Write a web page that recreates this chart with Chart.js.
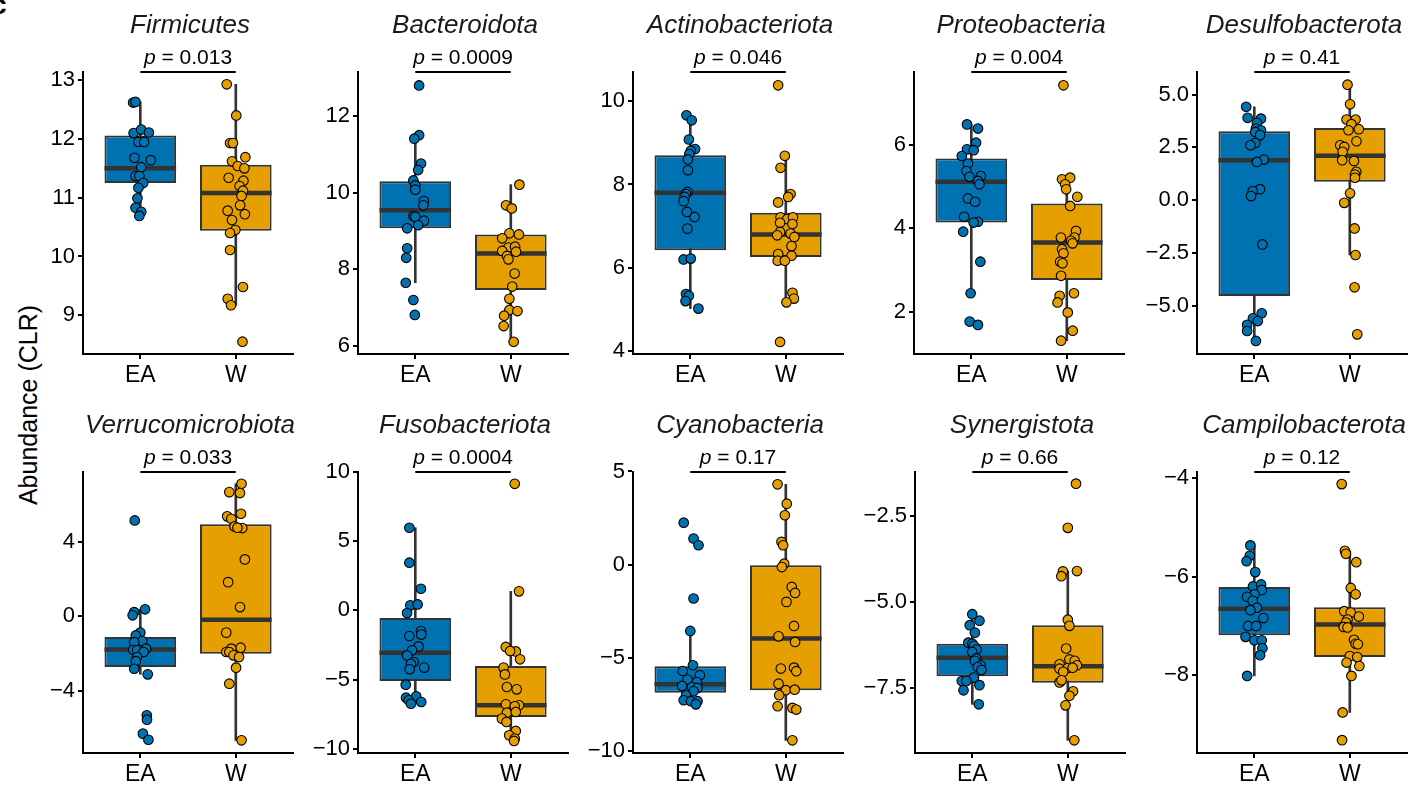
<!DOCTYPE html>
<html>
<head>
<meta charset="utf-8">
<title>Phylum abundance, EA vs W</title>
<script src="https://cdn.jsdelivr.net/npm/chart.js@4.4.1/dist/chart.umd.min.js"></script>
<style>
  html, body { margin: 0; padding: 0; background: #fff; width: 1413px; height: 787px; overflow: hidden; }
  canvas.panel { position: absolute; }
  #ylab {
    position: absolute; left: 28px; top: 405px;
    transform: translate(-50%, -50%) rotate(-90deg);
    font: 25px 'Liberation Sans', Arial, Helvetica, sans-serif;
    color: #000; white-space: nowrap;
  }
  #tag {
    position: absolute; left: -9px; top: -9px;
    font: bold 28px/28px 'Liberation Sans', Arial, Helvetica, sans-serif;
    color: #000;
  }
</style>
</head>
<body>
<div id="tag">c</div>
<div id="ylab">Abundance (CLR)</div>
<script>
// ---- data -------------------------------------------------------------
const phyla = ['Firmicutes', 'Bacteroidota', 'Actinobacteriota', 'Proteobacteria', 'Desulfobacterota',
               'Verrucomicrobiota', 'Fusobacteriota', 'Cyanobacteria', 'Synergistota', 'Campilobacterota'];
const groups = ['EA', 'W'];
const pLabels = ['0.013', '0.0009', '0.046', '0.004', '0.41', '0.033', '0.0004', '0.17', '0.66', '0.12'];

// y-axis limits and tick values for each phylum
const yLimits = [[8.34, 13.14], [5.79, 13.15], [3.93, 10.70], [0.98, 7.76], [-7.29, 6.07],
                 [-7.35, 7.73], [-10.29, 9.98], [-10.11, 4.97], [-9.41, -1.21], [-9.57, -3.885]];
const yTicks = [[9, 10, 11, 12, 13], [6, 8, 10, 12], [4, 6, 8, 10], [2, 4, 6], [-5, -2.5, 0, 2.5, 5],
                [-4, 0, 4], [-10, -5, 0, 5, 10], [-10, -5, 0, 5], [-7.5, -5, -2.5], [-8, -6, -4]];
const tickDecimals = [0, 0, 0, 0, 1, 0, 0, 0, 1, 0];

// box statistics: [lower whisker, Q1, median, Q3, upper whisker]
const boxEA = [
  [10.67, 11.25, 11.50, 12.06, 12.63],
  [7.65, 9.07, 9.54, 10.30, 11.50],
  [5.02, 6.42, 7.80, 8.70, 9.66],
  [2.44, 4.14, 5.12, 5.68, 6.50],
  [-6.67, -4.54, 1.89, 3.26, 4.42],
  [-3.13, -2.74, -1.79, -1.13, 0.36],
  [-6.73, -5.10, -3.05, -0.55, 5.96],
  [-7.50, -6.87, -6.42, -5.46, -3.56],
  [-7.99, -7.17, -6.63, -6.22, -5.36],
  [-8.01, -7.19, -6.65, -6.21, -5.37]
];
const boxW = [
  [9.17, 10.44, 11.08, 11.56, 12.93],
  [6.11, 7.46, 8.41, 8.91, 10.21],
  [5.17, 6.26, 6.80, 7.32, 8.69],
  [1.30, 2.76, 3.66, 4.60, 5.22],
  [-2.60, 0.87, 2.10, 3.42, 5.47],
  [-6.67, -2.02, -0.20, 4.92, 7.10],
  [-9.42, -7.69, -6.85, -4.01, 1.37],
  [-9.43, -6.74, -3.97, -0.04, 4.31],
  [-9.04, -7.36, -6.88, -5.68, -4.10],
  [-8.75, -7.63, -6.97, -6.62, -5.48]
];

// samples: [horizontal jitter (group units), CLR abundance]
const firmicutesEA = [[-0.075,12.62],[-0.05,12.63],[-0.07,12.10],[0.01,12.16],[0.09,12.11],[-0.02,11.95],[0.04,11.95],[-0.06,11.68],[0.11,11.64],[0.01,11.52],[-0.05,11.37],[-0.01,11.37],[0.03,11.25],[-0.02,11.17],[-0.03,10.99],[-0.05,10.83],[0.01,10.76],[-0.01,10.69]];
const firmicutesW = [[-0.095,12.93],[0.005,12.40],[-0.06,11.93],[-0.03,11.93],[-0.04,11.62],[0.10,11.69],[0.02,11.54],[0.09,11.50],[-0.075,11.34],[0.08,11.29],[0.04,11.20],[0.075,11.12],[0.06,11.03],[0.045,10.87],[-0.085,10.78],[0.095,10.72],[-0.04,10.62],[-0.005,10.45],[-0.06,10.40],[-0.06,10.11],[0.075,9.48],[-0.085,9.28],[-0.05,9.17],[0.07,8.55]];
const bacteroidotaEA = [[0.04,12.80],[0.04,11.50],[-0.01,11.41],[0.06,10.76],[0.03,10.59],[-0.02,10.32],[0,10.19],[0,10.08],[0.09,9.78],[0.085,9.67],[-0.02,9.39],[0,9.37],[0.09,9.27],[0.03,9.15],[-0.085,9.07],[-0.085,8.55],[-0.095,8.30],[-0.10,7.65],[-0.02,7.20],[-0.005,6.81]];
const bacteroidotaW = [[0.09,10.21],[-0.05,9.67],[0.01,9.59],[-0.015,8.94],[0.085,8.91],[-0.09,8.81],[-0.025,8.57],[0.045,8.59],[-0.09,8.48],[0.055,8.46],[-0.04,8.35],[-0.025,8.26],[0.04,7.89],[0.015,7.55],[-0.015,7.23],[-0.015,6.94],[0.07,6.91],[-0.07,6.79],[-0.075,6.52],[0.03,6.11]];
const actinobacteriotaEA = [[-0.04,9.66],[0.015,9.54],[-0.015,9.08],[0.05,8.85],[0.005,8.81],[-0.01,8.73],[-0.025,8.60],[-0.025,8.34],[-0.03,7.82],[-0.045,7.77],[-0.06,7.70],[-0.07,7.60],[-0.035,7.34],[0.045,7.22],[-0.03,6.94],[-0.07,6.20],[0.005,6.22],[-0.045,5.37],[-0.015,5.33],[-0.05,5.20],[0.085,5.02]];
const actinobacteriotaW = [[-0.08,10.38],[-0.01,8.69],[-0.055,8.40],[0.05,7.77],[0.025,7.70],[-0.08,7.57],[-0.055,7.21],[0.015,7.17],[0.075,7.21],[-0.06,7.08],[0.07,7.05],[-0.06,6.86],[-0.09,6.78],[0.05,6.82],[0.09,6.74],[0.06,6.52],[-0.08,6.33],[0.06,6.29],[-0.085,6.17],[-0.01,6.17],[0.07,5.40],[0.085,5.26],[0.007,5.17],[-0.06,4.22]];
const proteobacteriaEA = [[-0.045,6.50],[0.07,6.40],[0.05,6.06],[-0.045,5.90],[0.025,5.88],[-0.10,5.74],[-0.035,5.56],[-0.05,5.38],[0.10,5.26],[-0.02,5.24],[0.07,5.14],[0.085,5.06],[-0.035,4.72],[0.04,4.64],[-0.075,4.28],[0.07,4.16],[0.025,4.14],[-0.085,3.92],[0.095,3.20],[-0.007,2.44],[-0.017,1.76],[0.07,1.68]];
const proteobacteriaW = [[-0.035,7.44],[-0.05,5.18],[0.035,5.22],[-0.017,5.06],[-0.007,4.94],[0.11,4.76],[0.035,4.54],[0.097,3.94],[-0.062,3.78],[0.08,3.78],[0.045,3.70],[0.06,3.64],[-0.05,3.50],[-0.035,3.40],[-0.07,3.20],[-0.045,3.16],[-0.06,2.86],[0.075,2.44],[-0.075,2.38],[-0.097,2.22],[0.01,1.98],[0.062,1.54],[-0.06,1.30]];
const desulfobacterotaEA = [[-0.085,4.42],[-0.07,3.90],[0.07,3.86],[0.027,3.66],[0.017,3.39],[0.07,3.31],[0.01,3.23],[0.06,3.08],[0.01,2.71],[-0.04,2.60],[0.10,1.92],[0.027,1.81],[0.06,0.52],[-0.017,0.43],[-0.034,0.19],[0.085,-2.10],[0.078,-5.36],[-0.014,-5.60],[0.037,-5.73],[-0.075,-5.91],[-0.075,-6.20],[0.017,-6.67]];
const desulfobacterotaW = [[-0.024,5.47],[0.003,4.54],[-0.034,3.82],[0.06,3.82],[0.017,3.60],[0.095,3.36],[-0.014,3.31],[0.07,2.79],[-0.10,2.60],[-0.058,2.52],[-0.075,2.29],[-0.08,1.89],[0.044,1.85],[0.068,1.34],[0.054,1.21],[0.054,1.06],[0.003,0.32],[-0.058,-0.13],[0.05,-1.34],[0.06,-2.60],[0.05,-4.13],[0.078,-6.36]];
const verrucomicrobiotaEA = [[-0.058,5.13],[-0.064,0.21],[-0.08,0.04],[0.05,0.36],[0,-0.89],[-0.047,-1.04],[0.02,-1.34],[-0.064,-1.40],[0.06,-1.75],[-0.075,-1.81],[-0.034,-1.84],[0.034,-1.93],[-0.034,-2.20],[-0.047,-2.42],[-0.064,-2.83],[0.078,-3.13],[0.068,-5.33],[0.07,-5.56],[0.027,-6.31],[0.085,-6.64]];
const verrucomicrobiotaW = [[0.06,7.10],[-0.068,6.65],[0.044,6.60],[0.054,5.49],[-0.09,5.35],[-0.047,5.22],[-0.014,4.81],[0.068,4.72],[0.017,4.74],[0.095,3.04],[-0.08,1.82],[0.044,0.48],[-0.10,-0.89],[0.05,-1.70],[-0.047,-1.75],[-0.10,-1.93],[-0.068,-1.93],[-0.024,-2.11],[0.034,-2.20],[0.003,-2.77],[-0.068,-3.63],[0.06,-6.67]];
const fusobacteriotaEA = [[-0.062,5.96],[-0.062,3.44],[0.059,1.56],[-0.052,0.36],[0.024,0.43],[-0.086,-0.19],[0.059,-1.49],[0.062,-1.75],[-0.062,-1.85],[0.034,-2.60],[-0.034,-2.88],[-0.086,-3.25],[-0.017,-3.73],[-0.045,-3.85],[0.093,-4.13],[-0.059,-4.25],[-0.10,-5.36],[0.01,-6.20],[-0.097,-6.30],[-0.069,-6.49],[0.062,-6.61],[-0.045,-6.73]];
const fusobacteriotaW = [[0.041,9.13],[0.086,1.37],[-0.052,-2.64],[0.052,-2.96],[-0.007,-2.93],[0.097,-3.53],[-0.076,-4.13],[-0.062,-4.62],[-0.041,-5.53],[0.062,-5.70],[-0.052,-6.78],[0.086,-6.85],[0.041,-6.92],[-0.041,-7.38],[0.052,-7.33],[-0.093,-7.81],[-0.045,-8.05],[0.052,-8.70],[-0.017,-9.01],[0.041,-9.25],[0.034,-9.42]];
const cyanobacteriaEA = [[-0.069,2.25],[0.034,1.40],[0.086,1.04],[0.034,-1.82],[0,-3.56],[0.028,-5.40],[-0.079,-5.71],[0.10,-5.94],[-0.028,-6.17],[0.069,-6.30],[-0.086,-6.51],[0.017,-6.57],[0.076,-6.62],[0.034,-6.80],[-0.045,-7.01],[-0.069,-7.28],[0.007,-7.33],[0.076,-7.33],[0.059,-7.50]];
const cyanobacteriaW = [[-0.086,4.31],[0.01,3.27],[-0.01,2.65],[-0.045,1.22],[-0.028,1.04],[-0.017,0.05],[-0.041,-0.13],[0.062,-1.20],[0.097,-1.52],[0.007,-2.00],[0.086,-3.29],[-0.076,-3.85],[0.097,-4.15],[-0.052,-5.58],[0.086,-5.53],[0.11,-5.72],[-0.076,-6.39],[0,-6.74],[0.093,-6.71],[-0.069,-7.01],[-0.086,-7.60],[0.069,-7.69],[0.11,-7.78],[0.069,-9.43]];
const synergistotaEA = [[0,-5.36],[0.075,-5.55],[-0.027,-5.68],[0.027,-5.90],[-0.041,-6.19],[0,-6.22],[0.017,-6.28],[0.045,-6.39],[0,-6.46],[0.041,-6.65],[0.027,-6.72],[0.086,-6.85],[0.058,-6.90],[0.096,-6.99],[0.017,-7.21],[-0.11,-7.31],[-0.062,-7.31],[0.075,-7.43],[-0.092,-7.58],[0.068,-7.99]];
const synergistotaW = [[0.086,-1.55],[0,-2.84],[-0.051,-4.11],[-0.068,-4.25],[0.096,-4.10],[0,-5.52],[0.017,-5.70],[-0.017,-6.36],[0.017,-6.68],[0.072,-6.72],[-0.086,-6.82],[0.096,-6.85],[-0.086,-6.95],[0,-6.93],[0.051,-6.92],[-0.048,-7.04],[-0.086,-7.35],[-0.065,-7.29],[0.055,-7.61],[0.017,-7.74],[-0.024,-8.02],[0.068,-9.04]];
const campilobacterotaEA = [[-0.041,-5.37],[-0.047,-5.58],[-0.081,-5.69],[0.01,-5.91],[-0.014,-6.20],[0.071,-6.16],[0.078,-6.27],[0.003,-6.36],[-0.075,-6.41],[-0.017,-6.49],[0.027,-6.63],[-0.041,-6.68],[0.095,-6.84],[-0.064,-7.00],[0.02,-7.00],[-0.092,-7.22],[0,-7.29],[0.078,-7.29],[0.085,-7.45],[0.061,-7.59],[-0.075,-8.01]];
const campilobacterotaW = [[-0.085,-4.13],[-0.051,-5.48],[-0.041,-5.54],[0.068,-5.71],[0.01,-6.23],[0.061,-6.36],[-0.058,-6.70],[0.01,-6.73],[0.095,-6.81],[-0.024,-6.87],[-0.041,-6.93],[-0.064,-7.02],[-0.024,-7.03],[0.044,-7.28],[0.061,-7.36],[0.085,-7.37],[0,-7.61],[0.078,-7.63],[-0.034,-7.74],[0.10,-7.81],[0.017,-8.01],[-0.075,-8.75],[-0.081,-9.31]];

const pointsEA = [firmicutesEA, bacteroidotaEA, actinobacteriotaEA, proteobacteriaEA, desulfobacterotaEA,
                  verrucomicrobiotaEA, fusobacteriotaEA, cyanobacteriaEA, synergistotaEA, campilobacterotaEA];
const pointsW = [firmicutesW, bacteroidotaW, actinobacteriotaW, proteobacteriaW, desulfobacterotaW,
                 verrucomicrobiotaW, fusobacteriotaW, cyanobacteriaW, synergistotaW, campilobacterotaW];

// ---- styling and layout ----------------------------------------------
const FONT = "'Liberation Sans', Arial, Helvetica, sans-serif";
const groupColors = ['#0072B2', '#E69F00'];
const INK = '#333333';
const BOX_WIDTH = 0.75;                 // box width in group units
const axisLeft = [[83, 358, 633, 914, 1197], [83, 358, 633, 915, 1197]];
const rowTop = [0, 400];
const plotHeight = [282, 281];
const Y_AXIS_W = 72, PLOT_W = 216, TOP_SPACE = 72, X_AXIS_H = 46;

function formatTick(v, decimals) {
  return v.toFixed(decimals).replace('-', '\u2212');
}

// title, p-value bracket and label above each panel
const panelText = {
  id: 'panelText',
  afterDraw(chart, args, opts) {
    const { ctx, chartArea, scales } = chart;
    ctx.save();
    const cx = (chartArea.left + chartArea.right) / 2;
    ctx.fillStyle = '#1a1a1a';
    ctx.textAlign = 'center';
    ctx.textBaseline = 'alphabetic';
    ctx.font = `italic 26px ${FONT}`;
    ctx.fillText(opts.title, cx + 2, chartArea.top - 39);

    const x1 = scales.x.getPixelForValue(1);
    const x2 = scales.x.getPixelForValue(2);
    const by = chartArea.top;
    ctx.strokeStyle = '#000';
    ctx.lineWidth = 2;
    ctx.beginPath();
    ctx.moveTo(x1, by);
    ctx.lineTo(x2, by);
    ctx.stroke();

    const rest = ' = ' + opts.p;
    ctx.font = `italic 21px ${FONT}`;
    const wp = ctx.measureText('p').width;
    ctx.font = `21px ${FONT}`;
    const wr = ctx.measureText(rest).width;
    const x0 = (x1 + x2) / 2 - (wp + wr) / 2;
    ctx.fillStyle = '#000';
    ctx.textAlign = 'left';
    ctx.font = `italic 21px ${FONT}`;
    ctx.fillText('p', x0, by - 8);
    ctx.font = `21px ${FONT}`;
    ctx.fillText(rest, x0 + wp, by - 8);
    ctx.restore();
  }
};

function axisStyle() {
  return {
    grid: { display: true, drawOnChartArea: false, drawTicks: true, tickLength: 5, color: '#000', lineWidth: 2, offset: false },
    border: { display: true, color: '#000', width: 2 }
  };
}

phyla.forEach((name, i) => {
  const row = Math.floor(i / 5), col = i % 5;
  const canvas = document.createElement('canvas');
  canvas.className = 'panel';
  const w = Y_AXIS_W + PLOT_W;
  const h = TOP_SPACE + plotHeight[row] + X_AXIS_H;
  canvas.width = w;
  canvas.height = h;
  canvas.style.width = w + 'px';
  canvas.style.height = h + 'px';
  canvas.style.left = (axisLeft[row][col] - Y_AXIS_W) + 'px';
  canvas.style.top = rowTop[row] + 'px';
  document.body.appendChild(canvas);

  const boxes = [boxEA[i], boxW[i]];
  const medianLine = [];
  boxes.forEach((b, k) => {
    if (k > 0) medianLine.push({ x: k + 0.5, y: null });
    medianLine.push({ x: k + 1 - BOX_WIDTH / 2, y: b[2] });
    medianLine.push({ x: k + 1 + BOX_WIDTH / 2, y: b[2] });
  });

  const sampleSet = (pts, k) => ({
    type: 'scatter',
    order: 0,
    data: pts.map(([j, v]) => ({ x: k + 1 + j, y: v })),
    backgroundColor: groupColors[k],
    borderColor: '#000',
    borderWidth: 1.1,
    pointRadius: 4.8,
    pointHoverRadius: 4.8
  });

  new Chart(canvas, {
    type: 'bar',
    data: {
      datasets: [
        sampleSet(pointsEA[i], 0),
        sampleSet(pointsW[i], 1),
        {
          type: 'line', order: 1, data: medianLine,
          borderColor: INK, borderWidth: 4.5, pointRadius: 0, spanGaps: false, fill: false
        },
        {
          type: 'bar', order: 2, grouped: false,
          data: boxes.map((b, k) => ({ x: k + 1, y: [b[1], b[3]] })),
          backgroundColor: groupColors, borderColor: INK, borderWidth: 2, borderSkipped: false,
          barPercentage: BOX_WIDTH, categoryPercentage: 1
        },
        {
          type: 'bar', order: 3, grouped: false,
          data: boxes.map((b, k) => ({ x: k + 1, y: [b[0], b[4]] })),
          backgroundColor: INK, borderWidth: 0, barThickness: 2
        }
      ]
    },
    options: {
      responsive: false,
      animation: false,
      events: [],
      layout: { padding: { top: TOP_SPACE, left: 0, right: 0, bottom: 0 } },
      plugins: {
        legend: { display: false },
        tooltip: { enabled: false },
        panelText: { title: name, p: pLabels[i] }
      },
      scales: {
        x: {
          type: 'linear', min: 0.4, max: 2.6, bounds: 'data', offset: false,
          afterBuildTicks: s => { s.ticks = groups.map((g, k) => ({ value: k + 1 })); },
          afterFit: s => { s.height = X_AXIS_H; },
          ticks: {
            callback: v => groups[Math.round(v) - 1],
            font: { family: FONT, size: 23 }, color: '#000', padding: 3,
            maxRotation: 0, autoSkip: false
          },
          ...axisStyle()
        },
        y: {
          type: 'linear', min: yLimits[i][0], max: yLimits[i][1], bounds: 'data', beginAtZero: false,
          afterBuildTicks: s => { s.ticks = yTicks[i].map(v => ({ value: v })); },
          afterFit: s => { s.width = Y_AXIS_W; },
          ticks: {
            callback: v => formatTick(v, tickDecimals[i]),
            font: { family: FONT, size: 22 }, color: '#000', padding: 3, autoSkip: false
          },
          ...axisStyle()
        }
      }
    },
    plugins: [panelText]
  });
});
</script>
</body>
</html>
